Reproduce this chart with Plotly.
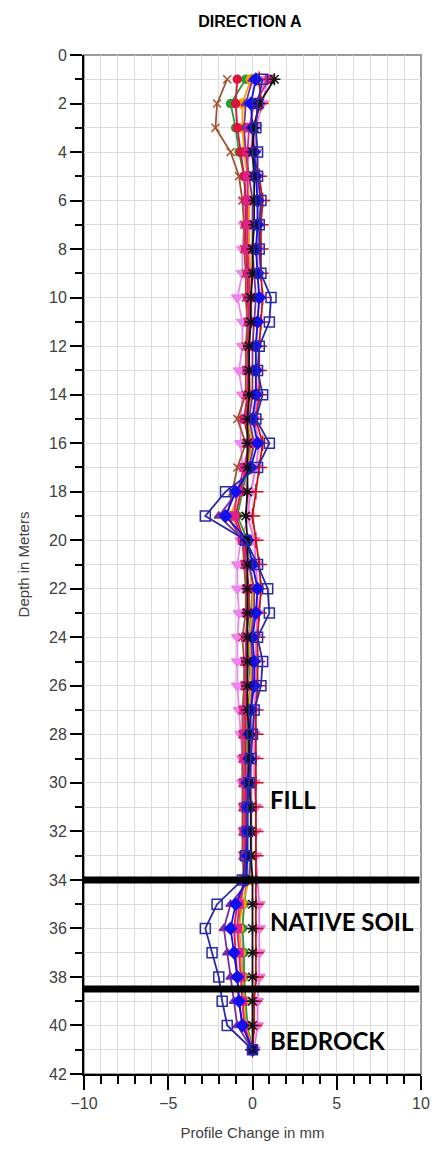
import plotly.graph_objs as go

# Profondeurs de mesure (m)
depth = list(range(1, 42))

# Lectures (mm) - une liste par campagne
blue_sq = [0.6, 0.3, 0.2, 0.3, 0.3, 0.5, 0.4, 0.4, 0.5, 1.1, 1.0, 0.4, 0.3, 0.6, 0.2, 1.0, 0.3, -1.6, -2.8, -0.4,
           0.3, 0.9, 1.0, 0.3, 0.6, 0.5, 0.1, 0.0, -0.1, -0.2, -0.3, -0.3, -0.4, -0.6, -2.1, -2.8, -2.4, -2.0, -1.8, -1.5, 0.0]
blue_dia = [0.2, -0.1, 0.0, 0.1, 0.2, 0.3, 0.3, 0.2, 0.3, 0.4, 0.3, 0.2, 0.2, 0.2, 0.0, 0.3, -0.1, -1.0, -1.6, -0.3,
            0.0, 0.3, 0.2, 0.0, 0.1, 0.1, -0.1, -0.2, -0.2, -0.3, -0.3, -0.3, -0.3, -0.4, -1.0, -1.3, -1.1, -0.9, -0.8, -0.6, 0.0]
black_star = [1.3, 0.4, 0.1, 0.0, 0.1, 0.1, 0.1, 0.0, 0.0, -0.1, -0.1, -0.2, -0.2, -0.2, -0.3, -0.3, -0.3, -0.3, -0.4, -0.3,
              -0.3, -0.3, -0.3, -0.3, -0.3, -0.3, -0.3, -0.2, -0.2, -0.2, -0.1, -0.1, -0.1, 0.0, 0.0, 0.0, 0.0, 0.0, 0.0, 0.0, 0.0]
red_star = [0.4, 0.5, 0.0, 0.0, 0.4, 0.6, 0.5, 0.5, 0.5, 0.6, 0.5, 0.4, 0.4, 0.4, 0.2, 0.6, 0.4, 0.2, 0.0, 0.2,
            0.4, 0.5, 0.4, 0.3, 0.3, 0.3, 0.2, 0.2, 0.2, 0.2, 0.2, 0.2, 0.2, 0.2, 0.2, 0.2, 0.2, 0.2, 0.1, 0.1, 0.0]
violet_tri = [0.9, 0.6, 0.2, -0.2, -0.4, -0.5, -0.5, -0.6, -0.6, -0.9, -0.6, -0.6, -0.8, -0.6, -0.7, -0.7, -0.6, -0.3, -0.2, -0.7,
              -0.9, -0.9, -0.8, -0.9, -0.9, -0.9, -0.8, -0.7, -0.6, -0.6, -0.5, -0.5, -0.4, -0.4, -0.5, -0.6, -0.6, -0.5, -0.5, -0.4, 0.0]
crimson = [-0.9, -1.0, -0.9, -0.7, -0.5, -0.4, -0.4, -0.4, -0.3, -0.3, -0.2, -0.3, -0.3, -0.3, -0.5, -0.2, -0.4, -0.7, -1.0, -0.5,
           -0.4, -0.2, -0.2, -0.4, -0.3, -0.3, -0.4, -0.4, -0.4, -0.4, -0.4, -0.4, -0.4, -0.4, -0.9, -1.1, -1.0, -0.9, -0.8, -0.6, 0.0]
orange = [-0.1, -0.6, -0.6, -0.5, -0.3, -0.2, -0.2, -0.2, -0.1, -0.1, -0.1, -0.2, -0.2, -0.1, -0.3, 0.0, -0.3, -0.8, -1.3, -0.4,
          -0.2, 0.0, 0.0, -0.2, -0.1, -0.1, -0.2, -0.2, -0.2, -0.2, -0.1, -0.1, -0.1, -0.2, -0.6, -0.8, -0.7, -0.6, -0.5, -0.4, 0.0]
brown = [-1.5, -2.1, -2.2, -1.3, -0.8, -0.6, -0.5, -0.5, -0.4, -0.4, -0.3, -0.4, -0.4, -0.4, -0.9, -0.4, -0.9, -1.2, -1.5, -0.6,
         -0.5, -0.4, -0.4, -0.6, -0.5, -0.5, -0.6, -0.6, -0.6, -0.6, -0.6, -0.6, -0.6, -0.5, -0.7, -0.8, -0.7, -0.6, -0.5, -0.4, 0.0]
green = [-0.4, -1.3, -1.0, -0.8, -0.5, -0.4, -0.3, -0.3, -0.3, -0.2, -0.2, -0.3, -0.3, -0.2, -0.4, -0.1, -0.3, -0.6, -0.9, -0.3,
         -0.2, 0.0, -0.1, -0.2, -0.2, -0.1, -0.3, -0.3, -0.3, -0.3, -0.3, -0.3, -0.3, -0.3, -0.5, -0.6, -0.5, -0.5, -0.4, -0.3, 0.0]
purple = [0.0, -0.4, -0.5, -0.4, -0.2, 0.0, 0.0, 0.0, 0.1, 0.2, 0.1, 0.0, 0.0, 0.0, -0.2, 0.1, -0.2, -0.9, -2.0, -0.5,
          -0.2, 0.1, 0.1, -0.1, 0.0, 0.0, -0.1, -0.1, -0.1, -0.1, -0.1, -0.1, -0.1, -0.2, -1.3, -1.7, -1.5, -1.3, -1.1, -0.9, 0.0]
deep_pink = [1.0, 0.1, -0.2, -0.3, -0.3, -0.3, -0.3, -0.3, -0.2, -0.2, -0.2, -0.2, -0.3, -0.2, -0.4, -0.2, -0.5, -0.9, -1.1, -0.6,
             -0.4, -0.3, -0.3, -0.4, -0.4, -0.4, -0.5, -0.5, -0.5, -0.5, -0.5, -0.5, -0.5, -0.5, -0.8, -0.9, -0.8, -0.7, -0.6, -0.5, 0.0]
light_mag = [0.8, 0.3, 0.2, 0.2, 0.3, 0.3, 0.3, 0.3, 0.3, 0.4, 0.3, 0.2, 0.2, 0.3, 0.1, 0.4, 0.2, -0.1, -0.3, 0.1,
             0.2, 0.3, 0.3, 0.2, 0.2, 0.2, 0.1, 0.1, 0.1, 0.1, 0.2, 0.2, 0.2, 0.3, 0.4, 0.4, 0.4, 0.4, 0.3, 0.3, 0.1]

series = [
    (light_mag, '#f070e0', 'triangle-down', 10),
    (violet_tri, '#ee82ee', 'triangle-down', 10),
    (brown, '#a0522d', 'x-thin-open', 8),
    (green, '#22a030', 'circle', 8),
    (orange, '#ffa000', 'circle', 9),
    (purple, '#7b2d9b', 'triangle-up', 8),
    (crimson, '#dc143c', 'circle', 8),
    (deep_pink, '#e0208a', 'square', 8),
    (red_star, '#d01010', 'cross-thin-open', 11),
    (blue_dia, '#1010ee', 'diamond', 9),
    (black_star, '#111111', 'asterisk-open', 10),
    (blue_sq, '#2a2aa8', 'square-open', 10),
]

fig = go.Figure()
for vals, col, sym, sz in series:
    fig.add_trace(go.Scatter(
        x=vals, y=depth, mode='lines+markers',
        line=dict(color=col, width=1.8),
        marker=dict(color=col, symbol=sym, size=sz, line=dict(color=col, width=1.5)),
        showlegend=False))

# Limites des couches
for d in [34, 38.5]:
    fig.add_shape(type='line', xref='x', yref='y', x0=-10, x1=9.9, y0=d, y1=d,
                  line=dict(color='black', width=7))

# Cadre gris
fig.add_shape(type='rect', xref='paper', yref='paper', x0=0, x1=1, y0=0, y1=1,
              line=dict(color='#9a9a9a', width=2), layer='below')

for txt, y in [('FILL', 30.7), ('NATIVE SOIL', 35.7), ('BEDROCK', 40.6)]:
    fig.add_annotation(x=0.9, y=y, text=txt, showarrow=False, xanchor='left', yanchor='middle',
                       font=dict(family='Lato', size=24, color='black', weight='bold'))

axis_font = dict(family='Liberation Sans, Arial', size=16, color='#404040')
title_font = dict(family='Liberation Sans, Arial', size=15, color='#404040')
fig.update_xaxes(range=[-10, 10], tickvals=[-10, -5, 0, 5, 10], ticks='outside', ticklen=14, tickwidth=2,
                 tickcolor='black', showline=True, linecolor='black', linewidth=2, zeroline=False,
                 showgrid=True, gridcolor='#dcdcdc', gridwidth=1, tickfont=axis_font,
                 minor=dict(dtick=1, ticks='outside', ticklen=8, tickwidth=2, tickcolor='black',
                            showgrid=True, gridcolor='#dcdcdc'),
                 title=dict(text='Profile Change in mm', font=title_font, standoff=16))
fig.update_yaxes(range=[42, 0], dtick=2, ticks='outside', ticklen=12, tickwidth=2, tickcolor='black',
                 showline=True, linecolor='black', linewidth=2, zeroline=False,
                 showgrid=True, gridcolor='#dcdcdc', gridwidth=1, tickfont=axis_font,
                 minor=dict(dtick=1, ticks='outside', ticklen=7, tickwidth=2, tickcolor='black',
                            showgrid=True, gridcolor='#dcdcdc'),
                 title=dict(text='Depth in Meters', font=title_font, standoff=16))

fig.update_layout(
    width=440, height=1150,
    title=dict(text='<b>DIRECTION A</b>', x=0.568, xanchor='center', y=0.981, yanchor='middle',
               font=dict(family='Liberation Sans, Arial', size=16, color='black')),
    plot_bgcolor='white', paper_bgcolor='white',
    margin=dict(l=84, r=10, t=55, b=76),
)

fig.write_html('out.html', config={'displayModeBar': False},
               post_script="document.body.style.margin='0';")
